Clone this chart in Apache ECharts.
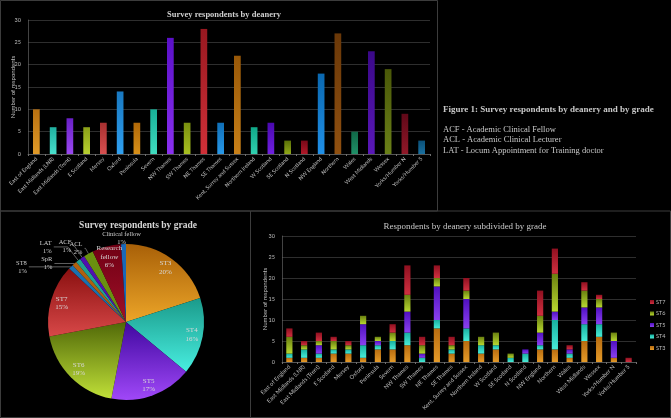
<!DOCTYPE html>
<html><head><meta charset="utf-8">
<script src="https://cdn.jsdelivr.net/npm/echarts@6/dist/echarts.min.js"></script>
<style>html,body{margin:0;padding:0;background:#000}#c{width:671px;height:418px}</style>
</head><body><div id="c"></div>
<script>
// ---------- DATA ----------
const deaneries = ['East of England','East Midlands (LNR)','East Midlands (Trent)','E Scotland','Mersey','Oxford','Peninsula','Severn','NW Thames','SW Thames','NE Thames','SE Thames','Kent, Surrey and Sussex','Northern Ireland','W Scotland','SE Scotland','N Scotland','NW England','Northern','Wales','West Midlands','Wessex','Yorks/Humber N','Yorks/Humber S'];
const deaneryTotals = [10,6,8,6,7,14,7,10,26,7,28,7,22,6,7,3,3,18,27,5,23,19,9,3];
const grades = ['ST3','ST4','ST5','ST6','ST7','ST8','SpR','LAT','ACF','ACL','Research fellow','Clinical fellow'];
const gradePercents = [20,16,17,19,15,1,1,1,1,2,6,1];
const stackGrades = ['ST3','ST4','ST5','ST6','ST7'];
const st3 = [1,1,1,2,2,1,3,3,4,0,8,2,5,2,3,0,0,3,3,1,5,6,1,0];
const st4 = [1,2,1,1,1,3,1,2,3,1,2,1,3,2,1,1,2,1,7,1,4,3,0,0];
const st5 = [0,0,2,0,0,5,1,0,5,1,8,0,7,0,0,0,1,3,2,1,4,4,4,0];
const st6 = [4,1,1,2,1,2,1,2,4,2,2,1,2,2,3,1,0,4,9,0,4,2,2,0];
const st7 = [2,1,2,1,1,0,0,2,7,2,3,2,3,0,0,0,0,6,6,1,2,1,0,1];
const stackValues = [st3, st4, st5, st6, st7];
const legendOrder = ['ST7','ST6','ST5','ST4','ST3'];
const yMin = 0, yMax = 30, yStep = 5;
const figureTitle = 'Figure 1: Survey respondents by deanery and by grade';
const glossary = ['ACF - Academic Clinical Fellow','ACL - Academic Clinical Lecturer','LAT - Locum Appointment for Training doctor'];

// ---------- STYLES ----------
const G = (a, b) => new echarts.graphic.LinearGradient(0, 0, 0, 1, [{offset: 0, color: a}, {offset: 1, color: b}]);
const barPalette = [
  ['#b87010','#e09a28'],['#20b0a0','#48e0cc'],['#6a20c8','#9a48f0'],['#8aa018','#b8d030'],['#a83030','#d85050'],['#1878c0','#30a0f0'],
  ['#b06808','#d89018'],['#18b098','#40dcc0'],['#5a10c8','#8a30f0'],['#7a9010','#a8c020'],['#981820','#d03038'],['#1070b8','#2898e8'],
  ['#985808','#c88018'],['#10a888','#30d0b0'],['#4a08b0','#7020e0'],['#5a7008','#90a818'],['#780818','#b01828'],['#0a68b0','#2090e8'],
  ['#6a3808','#905010'],['#106848','#209068'],['#3a0888','#5a18b8'],['#4a5808','#6a8018'],['#600818','#901828'],['#0a5078','#1a70a0']
];
const stackPalette = [['#b86c10','#e49a28'],['#18b0a0','#48ecd8'],['#5010c0','#8a40f0'],['#6a8010','#b8d830'],['#901020','#d03040']];
const piePalette = [['#a86008','#eca528'],['#1a9a8a','#48eee0'],['#4008a0','#a048f8'],['#506808','#c0e038'],['#8a1010','#d84848'],
  ['#1a70b0','#1a70b0'],['#b06010','#b06010'],['#20a090','#20a090'],['#5010b0','#5010b0'],['#6a9010','#6a9010'],['#700014','#a01028'],['#1a68b8','#1a68b8']];
const txt = '#bdbdbd';
const grid = '#3a3a3a';
const serif = 'Liberation Serif';
const sans = 'Lato';

const smallLabel = {
  5: {length: 0, length2: 42},
  6: {length: 0, length2: 20},
  7: {length: 17, length2: 14},
  8: {length: 14, length2: 1},
  9: {length: 6, length2: 1},
  11: {length: 0, length2: 0}
};
const insideIdx = [0,1,2,3,4,10];

const chart = echarts.init(document.getElementById('c'), null, {renderer: 'canvas'});

function yAxisCfg(gi, gap) {
  return {
    gridIndex: gi, type: 'value', min: yMin, max: yMax, interval: yStep,
    name: 'Number of respondents', nameLocation: 'middle', nameGap: gap, nameRotate: 90, nameMoveOverlap: false,
    nameTextStyle: {color: txt, fontSize: 6, fontFamily: sans},
    axisLine: {show: true, lineStyle: {color: '#707070', width: 0.6}},
    axisTick: {show: false},
    axisLabel: {color: txt, fontSize: 5.5, fontFamily: sans, margin: 7},
    splitLine: {lineStyle: {color: grid, width: 0.8}}
  };
}
function xAxisCfg(gi, fs) {
  return {
    gridIndex: gi, type: 'category', data: deaneries,
    axisLine: {lineStyle: {color: '#707070', width: 0.6}},
    axisTick: {show: true, length: 2, lineStyle: {color: '#707070'}},
    axisLabel: {color: txt, fontSize: fs, fontFamily: sans, rotate: 45, interval: 0, margin: 4}
  };
}

const option = {
  backgroundColor: '#000',
  animation: false,
  title: [
    {text: 'Survey respondents by deanery', left: 219, top: 5, textAlign: 'center',
      textStyle: {color: '#cfcfcf', fontSize: 8.5, fontWeight: 'bold', fontFamily: serif}},
    {text: 'Survey respondents by grade', left: 133, top: 216, textAlign: 'center',
      textStyle: {color: '#d6d6d6', fontSize: 9.5, fontWeight: 'bold', fontFamily: serif}},
    {text: 'Respondents by deanery subdivided by grade', left: 460, top: 217, textAlign: 'center',
      textStyle: {color: '#c8c8c8', fontSize: 9, fontWeight: 'normal', fontFamily: serif}}
  ],
  grid: [
    {left: 28, right: 241, top: 20, bottom: 264},
    {left: 282, right: 35, top: 236, bottom: 56}
  ],
  xAxis: [xAxisCfg(0, 5.5), xAxisCfg(1, 5.8)],
  yAxis: [yAxisCfg(0, 12), yAxisCfg(1, 14)],
  legend: {
    data: legendOrder, orient: 'vertical', left: 645, top: 294, itemWidth: 4, itemHeight: 4, itemGap: 5.5,
    icon: 'rect', textStyle: {color: txt, fontSize: 5.5, fontFamily: sans, padding: [0, 0, 0, -3]}
  },
  graphic: [
    {type: 'rect', shape: {x: 0.5, y: 0.5, width: 437, height: 210.5}, style: {fill: 'none', stroke: '#3c3c3c', lineWidth: 1}, silent: true},
    {type: 'rect', shape: {x: 0.5, y: 211, width: 250, height: 206.5}, style: {fill: 'none', stroke: '#3c3c3c', lineWidth: 1}, silent: true},
    {type: 'rect', shape: {x: 250.5, y: 211, width: 420, height: 206.5}, style: {fill: 'none', stroke: '#3c3c3c', lineWidth: 1}, silent: true},
    {type: 'text', left: 443, top: 105, style: {text: figureTitle, fill: '#c8c8c8', font: 'bold 9px "Liberation Serif"'}, silent: true},
    {type: 'text', left: 443, top: 124, style: {text: glossary.join('\n'), fill: '#c8c8c8', font: '8.5px "Liberation Serif"', lineHeight: 10.7}, silent: true}
  ],
  series: [
    {
      type: 'bar', xAxisIndex: 0, yAxisIndex: 0, barWidth: '40%',
      data: deaneryTotals.map((v, i) => ({value: v, itemStyle: {color: G(barPalette[i][0], barPalette[i][1])}}))
    },
    ...stackGrades.map((g, k) => ({
      type: 'bar', name: g, stack: 'grade', xAxisIndex: 1, yAxisIndex: 1, barWidth: '42%',
      itemStyle: {color: G(stackPalette[k][0], stackPalette[k][1])},
      data: stackValues[k]
    })),
    {
      type: 'pie', center: [126, 322], radius: 78, startAngle: 90, clockwise: true,
      avoidLabelOverlap: false, silent: true,
      data: grades.map((g, i) => ({
        name: g, value: gradePercents[i],
        itemStyle: {color: G(piePalette[i][0], piePalette[i][1])},
        label: smallLabel[i] ? {show: true} : {show: false},
        labelLine: smallLabel[i] ? {show: i !== 11, length: smallLabel[i].length, length2: smallLabel[i].length2,
          lineStyle: {color: '#a0a0a0', width: 0.6}} : {show: false}
      })),
      label: {
        position: 'outside', color: '#cfcfcf', fontSize: 6.5, fontFamily: serif, lineHeight: 8, distanceToLabelLine: 2,
        formatter: p => p.name + '\n' + p.percent + '%'
      },
      labelLayout: p => p.dataIndex === 11 ? {dy: -6, align: 'center'} : {}
    },
    {
      type: 'pie', center: [126, 322], radius: [50, 78], startAngle: 90, clockwise: true,
      avoidLabelOverlap: false, silent: true,
      itemStyle: {color: 'rgba(0,0,0,0)'},
      data: grades.map((g, i) => ({
        name: g, value: gradePercents[i],
        label: {show: insideIdx.includes(i)}
      })),
      label: {
        position: 'inside', color: '#d8d8d8', fontSize: 7, fontFamily: serif, lineHeight: 8.5,
        formatter: p => p.name.replace(' ', '\n') + '\n' + p.percent + '%'
      },
      labelLine: {show: false}
    }
  ]
};
chart.setOption(option);
</script>
</body></html>
